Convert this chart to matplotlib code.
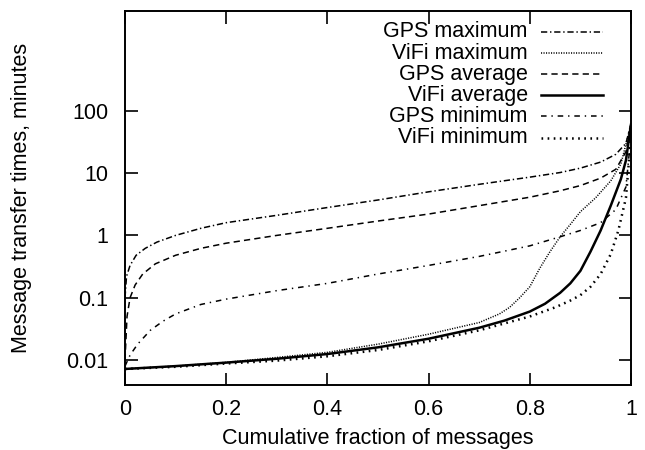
import matplotlib
matplotlib.use('Agg')
import matplotlib.pyplot as plt
from matplotlib.ticker import FixedLocator, NullLocator

matplotlib.rcParams['font.family'] = ['Liberation Sans', 'DejaVu Sans']
matplotlib.rcParams['lines.scale_dashes'] = False

# cumulative fraction of messages vs transfer time (minutes)
gps_max_x = [0, 0.003, 0.01, 0.022, 0.04, 0.063, 0.1, 0.15, 0.2, 0.3, 0.4, 0.5,
             0.6, 0.7, 0.8, 0.86, 0.9, 0.94, 0.97, 0.99, 1.0]
gps_max_y = [0.1, 0.22, 0.33, 0.48, 0.62, 0.78, 1.0, 1.3, 1.6, 2.1, 2.8, 3.7,
             5.0, 6.6, 8.6, 10.2, 12, 15, 20, 30, 62]

gps_avg_x = [0, 0.004, 0.01, 0.02, 0.035, 0.06, 0.1, 0.15, 0.2, 0.3, 0.4, 0.5,
             0.6, 0.7, 0.8, 0.86, 0.9, 0.94, 0.97, 0.99, 1.0]
gps_avg_y = [0.01, 0.05, 0.1, 0.16, 0.24, 0.35, 0.48, 0.62, 0.75, 1.0, 1.3, 1.7,
             2.2, 3.0, 4.1, 5.2, 6.3, 8.3, 11.5, 22, 60]

gps_min_x = [0, 0.01, 0.025, 0.05, 0.075, 0.1, 0.15, 0.2, 0.3, 0.4, 0.5, 0.6,
             0.7, 0.8, 0.86, 0.9, 0.94, 0.97, 0.99, 1.0]
gps_min_y = [0.008, 0.012, 0.018, 0.03, 0.042, 0.055, 0.078, 0.095, 0.13, 0.17,
             0.24, 0.33, 0.46, 0.68, 0.95, 1.2, 1.6, 2.6, 6, 40]

vifi_avg_x = [0, 0.1, 0.2, 0.3, 0.4, 0.5, 0.6, 0.7, 0.75, 0.8, 0.83, 0.86, 0.88,
              0.9, 0.92, 0.94, 0.96, 0.98, 0.99, 1.0]
vifi_avg_y = [0.0072, 0.008, 0.0091, 0.0105, 0.0125, 0.016, 0.022, 0.033, 0.043,
              0.06, 0.08, 0.12, 0.17, 0.27, 0.55, 1.2, 3.0, 8, 16, 60]

vifi_max_x = [0, 0.1, 0.2, 0.3, 0.4, 0.5, 0.6, 0.7, 0.74, 0.76, 0.78, 0.8, 0.82,
              0.84, 0.86, 0.88, 0.9, 0.93, 0.96, 0.98, 1.0]
vifi_max_y = [0.0072, 0.008, 0.0092, 0.011, 0.0133, 0.018, 0.026, 0.04, 0.055,
              0.07, 0.1, 0.15, 0.3, 0.55, 0.95, 1.5, 2.4, 4.0, 7.5, 14, 60]

vifi_min_x = [0, 0.1, 0.2, 0.3, 0.4, 0.5, 0.6, 0.7, 0.8, 0.85, 0.88, 0.9, 0.92,
              0.94, 0.96, 0.975, 0.99, 1.0]
vifi_min_y = [0.0072, 0.0078, 0.0088, 0.0098, 0.0115, 0.0145, 0.02, 0.03, 0.05,
              0.07, 0.09, 0.11, 0.15, 0.24, 0.5, 1.2, 4, 40]

x_ticks = [0, 0.2, 0.4, 0.6, 0.8, 1]
x_labels = ['0', '0.2', '0.4', '0.6', '0.8', '1']
y_ticks = [0.01, 0.1, 1, 10, 100]
y_labels = ['0.01', '0.1', '1', '10', '100']

fs = 15.5

# gnuplot-like line types, in legend order
series = [
    ('GPS maximum', gps_max_x, gps_max_y, 1.1, (0, (4.5, 2, 1, 2))),
    ('ViFi maximum', vifi_max_x, vifi_max_y, 1.1, (0, (0.8, 1.0))),
    ('GPS average', gps_avg_x, gps_avg_y, 1.1, (0, (4.5, 3))),
    ('ViFi average', vifi_avg_x, vifi_avg_y, 1.8, '-'),
    ('GPS minimum', gps_min_x, gps_min_y, 1.1, (0, (4, 3.5, 1, 3.5))),
    ('ViFi minimum', vifi_min_x, vifi_min_y, 1.8, (0, (1.2, 3.2))),
]

fig = plt.figure(figsize=(6.45, 4.5), dpi=100)
ax = fig.add_axes([125 / 645, 1 - 385 / 450, 506 / 645, 374 / 450])

for i, (name, xs, ys, lw, ls) in enumerate(series):
    ax.plot(xs, ys, color='black', lw=lw, linestyle=ls)
    # key: right-aligned label with a line sample next to it
    ky = 0.944 - i * 0.0565
    ax.text(0.796, ky, name, transform=ax.transAxes, ha='right', va='center',
            fontsize=fs)
    ax.plot([0.822, 0.945], [ky, ky], transform=ax.transAxes, color='black',
            lw=lw, linestyle=ls)

ax.set_yscale('log')
ax.set_xlim(0, 1)
ax.set_ylim(10 ** -2.4, 10 ** 3.6)

ax.xaxis.set_major_locator(FixedLocator(x_ticks))
ax.set_xticklabels(x_labels)
ax.yaxis.set_major_locator(FixedLocator(y_ticks))
ax.yaxis.set_minor_locator(NullLocator())
ax.set_yticklabels(y_labels)

ax.tick_params(which='major', direction='in', length=9, width=1.2,
               top=True, right=True, labelsize=fs, color='black')
ax.tick_params(axis='x', pad=10)
ax.tick_params(axis='y', pad=12)
for sp in ax.spines.values():
    sp.set_linewidth(1.4)

ax.set_xlabel('Cumulative fraction of messages', fontsize=fs, va='center')
ax.set_ylabel('Message transfer times, minutes', fontsize=fs, va='center')
ax.xaxis.set_label_coords(0.5, -0.142)
ax.yaxis.set_label_coords(-0.2036, 0.5)

fig.savefig('out.png', dpi=100)
